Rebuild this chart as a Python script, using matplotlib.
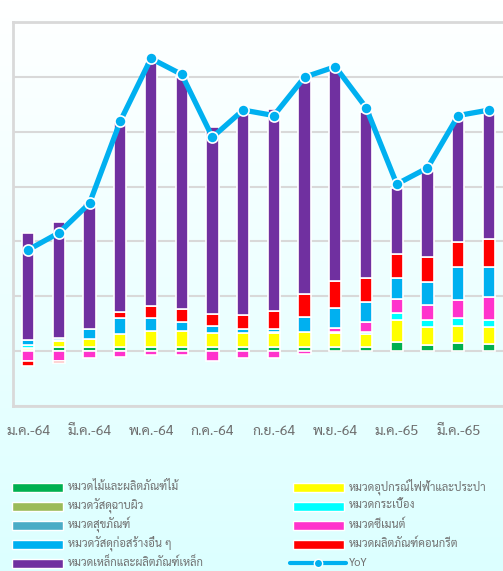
import matplotlib
matplotlib.use("Agg")
import matplotlib.pyplot as plt
import numpy as np
from matplotlib import font_manager
from matplotlib.patches import Rectangle
from matplotlib.lines import Line2D

# ---- data (grid step = 2) ----
months = ["ม.ค.-64", "ก.พ.-64", "มี.ค.-64", "เม.ย.-64", "พ.ค.-64", "มิ.ย.-64",
          "ก.ค.-64", "ส.ค.-64", "ก.ย.-64", "ต.ค.-64", "พ.ย.-64", "ธ.ค.-64",
          "ม.ค.-65", "ก.พ.-65", "มี.ค.-65", "เม.ย.-65"]

wood = [0.05, 0.14, 0.14, 0.14, 0.14, 0.14, 0.14, 0.14, 0.14, 0.14, 0.14, 0.14, 0.34, 0.22, 0.29, 0.27]
surface = [0.0] * 16
sanitary = [0.0] * 16
electric = [0.05, 0.24, 0.31, 0.49, 0.59, 0.59, 0.53, 0.52, 0.52, 0.55, 0.51, 0.50, 0.79, 0.66, 0.63, 0.61]
tile = [0.11, 0.02, 0.0, 0.0, 0.0, 0.0, 0.0, 0.0, 0.05, 0.0, 0.04, 0.04, 0.27, 0.27, 0.28, 0.27]
cement = [-0.37, -0.37, -0.26, -0.22, -0.15, -0.15, -0.37, -0.24, -0.24, -0.09, 0.15, 0.37, 0.50, 0.53, 0.67, 0.81]
other = [0.18, 0.09, 0.35, 0.59, 0.47, 0.35, 0.25, 0.14, 0.10, 0.55, 0.74, 0.73, 0.77, 0.83, 1.18, 1.11]
concrete = [-0.18, -0.07, 0.0, 0.22, 0.43, 0.44, 0.44, 0.51, 0.67, 0.84, 0.96, 0.90, 0.87, 0.93, 0.94, 1.02]
steel = [3.91, 4.22, 4.61, 6.90, 8.90, 8.48, 6.83, 7.39, 7.34, 7.80, 7.73, 6.04, 2.42, 3.14, 4.50, 4.61]
yoy = [3.69, 4.31, 5.39, 8.38, 10.67, 10.09, 7.80, 8.79, 8.59, 9.99, 10.37, 8.88, 6.09, 6.68, 8.59, 8.79]

labels = {
    "wood": "หมวดไม้และผลิตภัณฑ์ไม้",
    "surface": "หมวดวัสดุฉาบผิว",
    "sanitary": "หมวดสุขภัณฑ์",
    "other": "หมวดวัสดุก่อสร้างอื่น ๆ",
    "steel": "หมวดเหล็กและผลิตภัณฑ์เหล็ก",
    "electric": "หมวดอุปกรณ์ไฟฟ้าและประปา",
    "tile": "หมวดกระเบื้อง",
    "cement": "หมวดซีเมนต์",
    "concrete": "หมวดผลิตภัณฑ์คอนกรีต",
}
colors = {
    "wood": "#00b050", "surface": "#9bbb59", "sanitary": "#4bacc6",
    "other": "#00b0f0", "steel": "#7030a0", "electric": "#ffff00",
    "tile": "#00ffff", "cement": "#ff33cc", "concrete": "#ff0000",
}
series = {"wood": wood, "surface": surface, "sanitary": sanitary,
          "electric": electric, "tile": tile, "cement": cement,
          "other": other, "concrete": concrete, "steel": steel}
stack_order = ["wood", "surface", "sanitary", "electric", "tile", "cement",
               "other", "concrete", "steel"]

# ---- font with Thai glyphs ----
names = {f.name for f in font_manager.fontManager.ttflist}
thai = next((n for n in ["Sarabun", "Noto Sans Thai Looped", "Noto Sans Thai",
                         "Anuphan", "Bai Jamjuree"] if n in names), "DejaVu Sans")
plt.rcParams["font.family"] = [thai, "DejaVu Sans"]

W, H = 503, 571
fig = plt.figure(figsize=(W / 100, H / 100), dpi=100)

# background gradient
bg = fig.add_axes([0, 0, 1, 1], zorder=-10)
grad = np.linspace(0, 1, 256)[:, None]
cmap = matplotlib.colors.LinearSegmentedColormap.from_list("bg", ["#ffffff", "#dcffff"])
bg.imshow(grad, aspect="auto", cmap=cmap, extent=[0, 1, 0, 1], origin="upper")
bg.axis("off")

ax = fig.add_axes([13 / W, 1 - 406 / H, 491 / W, 384 / H])
ax.set_facecolor("none")

x = np.arange(len(months))
pos_base = np.zeros(len(months))
neg_base = np.zeros(len(months))
for key in stack_order:
    vals = np.array(series[key])
    pos = np.where(vals > 0, vals, 0)
    neg = np.where(vals < 0, vals, 0)
    m = pos > 0
    ax.bar(x[m], pos[m], bottom=pos_base[m], width=0.40, color=colors[key],
           edgecolor="white", linewidth=1.2, zorder=2)
    m = neg < 0
    ax.bar(x[m], neg[m], bottom=neg_base[m], width=0.40, color=colors[key],
           edgecolor="white", linewidth=1.2, zorder=2)
    pos_base += pos
    neg_base += neg

ax.plot(x, yoy, color="#00b0f0", lw=3.8, marker="o", markersize=8,
        markerfacecolor="#00b0f0", markeredgecolor="white", markeredgewidth=1.2,
        zorder=4)

ax.set_xlim(-0.49, 15.49)
ax.set_ylim(-2, 12)
ax.set_yticks(np.arange(-2, 13, 2))
ax.yaxis.grid(True, color="#d9d9d9", lw=1.5, zorder=0)
ax.set_axisbelow(True)
ax.tick_params(axis="y", length=0, labelleft=False)
ax.set_xticks(x[::2])
ax.set_xticklabels(months[::2], fontsize=10, color="#6e6e6e")
ax.tick_params(axis="x", length=0, pad=14)
for s in ax.spines.values():
    s.set_color("#d9d9d9")
    s.set_linewidth(2)

# legend drawn in two columns
left_col = ["wood", "surface", "sanitary", "other", "steel"]
right_col = ["electric", "tile", "cement", "concrete"]
rows_y = [487, 506, 525, 544, 563]


def fx(px):
    return px / W


def fy(py):
    return 1 - py / H


for col, x0 in ((left_col, 12), (right_col, 293)):
    for key, ry in zip(col, rows_y):
        fig.add_artist(Rectangle((fx(x0), fy(ry + 4.5)), 51 / W, 9 / H,
                                 transform=fig.transFigure, facecolor=colors[key],
                                 edgecolor="white", linewidth=1))
        fig.text(fx(x0 + 56), fy(ry), labels[key], fontsize=8, color="#707070",
                 va="center", ha="left")

ry = rows_y[4]
fig.add_artist(Line2D([fx(290), fx(346)], [fy(ry), fy(ry)], color="#00b0f0",
                      lw=3, solid_capstyle="round", transform=fig.transFigure))
fig.add_artist(Line2D([fx(318)], [fy(ry)], marker="o", markersize=6,
                      markerfacecolor="#00b0f0", markeredgecolor="white",
                      markeredgewidth=1, transform=fig.transFigure))
fig.text(fx(349), fy(ry), "YoY", fontsize=8, color="#707070", va="center", ha="left")

fig.savefig("out.png", dpi=100)
